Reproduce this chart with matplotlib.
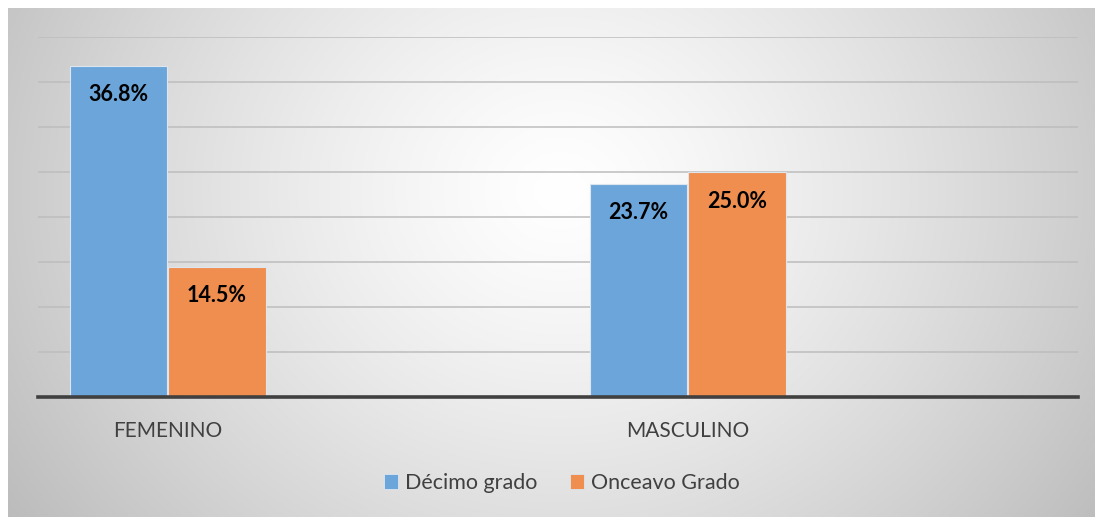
import numpy as np
import matplotlib
matplotlib.use("Agg")
import matplotlib.pyplot as plt
from matplotlib.patches import Patch

plt.rcParams['font.family'] = ['Lato', 'DejaVu Sans']

categories = ["FEMENINO", "MASCULINO"]
series_names = ["Décimo grado", "Onceavo Grado"]
decimo = [36.8, 23.7]
onceavo = [14.5, 25.0]
colors = ["#6CA5D9", "#EF8E4F"]

W, H = 1095, 517
fig = plt.figure(figsize=(W / 100, H / 100), dpi=100)

# radial gradient background panel
bg_left, bg_top, bg_right, bg_bottom = 8, 8, 1095, 517
bg = fig.add_axes([bg_left / W, 1 - bg_bottom / H, (bg_right - bg_left) / W, (bg_bottom - bg_top) / H])
yy, xx = np.mgrid[bg_top:bg_bottom, bg_left:bg_right]
r = np.hypot(xx - 560, (yy - 190) * 1.15)
v = 1 - 0.24 * np.clip(r / 620, 0, 1.2) ** 1.3
img = np.dstack([v, v, v])
bg.imshow(img, aspect='auto', interpolation='bilinear')
bg.axis('off')

# main axes
ax_left, ax_right, ax_top, ax_base = 38, 1078, 37, 397
ax = fig.add_axes([ax_left / W, 1 - ax_base / H, (ax_right - ax_left) / W, (ax_base - ax_top) / H])
ax.patch.set_alpha(0)
x = np.arange(len(categories))
bw = 0.187
vals = [decimo, onceavo]
offsets = [-0.095, 0.094]
for i, (name, col) in enumerate(zip(series_names, colors)):
    bars = ax.bar(x + offsets[i], vals[i], width=bw, color=col, edgecolor="#dde6ee",
                  linewidth=0.8, zorder=3, label=name)
    for b, val in zip(bars, vals[i]):
        ax.annotate(f"{val:.1f}%", (b.get_x() + b.get_width() / 2, b.get_height()),
                    xytext=(0, -21), textcoords='offset points', ha='center', va='center',
                    fontsize=15.5, fontweight='bold', color='black', zorder=4)

ax.set_xlim(-0.25, 1.75)
ax.set_ylim(0, 40)
ax.set_yticks(np.arange(5, 41, 5))
ax.yaxis.grid(True, color="#bdbdbd", linewidth=1.1, zorder=0)
ax.tick_params(axis='y', length=0, labelleft=False)
ax.set_xticks(x)
ax.set_xticklabels(categories, fontsize=15, color="#404040")
ax.tick_params(axis='x', length=0, pad=17)
for s in ['top', 'right', 'left']:
    ax.spines[s].set_visible(False)
ax.spines['bottom'].set_color("#404040")
ax.spines['bottom'].set_linewidth(2.6)
ax.spines['bottom'].set_zorder(5)

handles = [Patch(facecolor=c, edgecolor="#dde6ee", linewidth=0.6) for c in colors]
fig.legend(handles, series_names, loc='center', bbox_to_anchor=(562 / W, 1 - 483 / H),
           ncol=2, frameon=False, fontsize=15.5, handlelength=0.65, handleheight=0.65,
           handletextpad=0.35, columnspacing=1.5, labelcolor="#404040")

fig.savefig("out.png", dpi=100)
